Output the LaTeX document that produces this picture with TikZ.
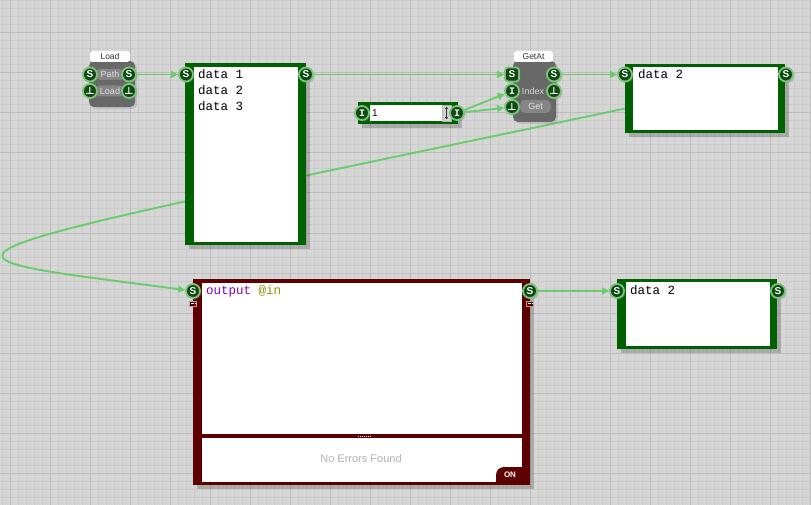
\documentclass[tikz,border=0pt]{standalone}
\usepackage{fontspec}
\setmainfont{Liberation Sans}
\setsansfont{Liberation Sans}
\setmonofont{Liberation Mono}
\newfontfamily\glyphfont{DejaVu Sans}
\usetikzlibrary{arrows.meta, positioning, shadows, calc}
\definecolor{canvas}{HTML}{D6D6D6}
\definecolor{minorline}{HTML}{CBCBCB}
\definecolor{majorline}{HTML}{BCBCBC}
\definecolor{framegreen}{HTML}{006100}
\definecolor{maroon}{HTML}{5C0000}
\definecolor{wiregreen}{HTML}{6CCB6C}
\definecolor{portfill}{HTML}{0E4A12}
\definecolor{portring}{HTML}{7CC47C}
\definecolor{blockgray}{HTML}{686868}
\definecolor{pillgray}{HTML}{858585}
\definecolor{keyword}{HTML}{8000C0}
\definecolor{varname}{HTML}{9C8A00}
\definecolor{muted}{HTML}{B2B2B2}
\pgfdeclarelayer{gridlayer}
\pgfdeclarelayer{wires}
\pgfsetlayers{gridlayer,wires,main}
\newcommand{\flagmark}{{\glyphfont\bfseries ⊥}}
\tikzset{
  port/.style={
    circle, fill=portfill, draw=portring, line width=1.8pt,
    minimum size=14pt, inner sep=0pt, text=white,
    font=\sffamily\bfseries\fontsize{10}{10}\selectfont,
    drop shadow={shadow xshift=1.5pt, shadow yshift=-1.5pt, opacity=0.3}
  },
  listport/.style={port, rectangle, rounded corners=3pt},
  greenframe/.style={
    rectangle, fill=framegreen, draw=none, inner sep=0pt,
    drop shadow={shadow xshift=4pt, shadow yshift=-4pt, fill=black, opacity=0.2}
  },
  redframe/.style={greenframe, fill=maroon},
  textarea/.style={rectangle, fill=white, inner sep=0pt},
  listtext/.style={font=\ttfamily\fontsize{12.5}{16}\selectfont, align=left, anchor=north west, inner sep=0pt},
  block/.style={
    rectangle, rounded corners=5pt, fill=blockgray, inner sep=0pt,
    drop shadow={shadow xshift=2pt, shadow yshift=-2pt, opacity=0.25}
  },
  titletab/.style={rectangle, rounded corners=3pt, fill=white, inner sep=0pt,
    font=\sffamily\fontsize{8.5}{8.5}\selectfont, text=black!80},
  pill/.style={rectangle, rounded corners=5pt, fill=pillgray, inner sep=0pt,
    font=\sffamily\fontsize{9}{9}\selectfont, text=white!88!black},
  rowtext/.style={font=\sffamily\fontsize{9}{9}\selectfont, text=white!85!black, inner sep=0pt},
  tinyicon/.style={rectangle, fill=maroon, draw=white!60!maroon, line width=0.4pt,
    minimum width=7pt, minimum height=5pt, inner sep=0pt,
    path picture={\draw[white, line width=0.7pt, dash pattern=on 0.7pt off 0.7pt]
      ([xshift=-2.5pt]path picture bounding box.center) -- ([xshift=2.5pt]path picture bounding box.center);}},
  wire/.style={draw=wiregreen, line width=1.9pt, -{Triangle[length=7pt,width=7pt]}},
}

\begin{document}
\begin{tikzpicture}[x=1pt, y=-1pt]
  \useasboundingbox (0,0) rectangle (811,505);
  \begin{pgfonlayer}{gridlayer}
    \fill[canvas] (0,0) rectangle (811,505);
    \foreach \gx in {2,10,...,810} \draw[minorline, line width=1pt] (\gx,0) -- (\gx,505);
    \foreach \gy in {1,9,...,505} \draw[minorline, line width=1pt] (0,\gy) -- (811,\gy);
    \foreach \gx in {10,50,...,810} \draw[majorline, line width=1pt] (\gx,0) -- (\gx,505);
    \foreach \gy in {33,73,...,505} \draw[majorline, line width=1pt] (0,\gy) -- (811,\gy);
  \end{pgfonlayer}

  % Load block
  \node[block, minimum width=46pt, minimum height=46pt] (load) at (112,84) {};
  \node[titletab, minimum width=40pt, minimum height=11pt] (loadtitle) at (110,56.5) {Load};
  \node[pill, minimum width=30pt, minimum height=11pt] (loadpath) at (110,74.5) {Path};
  \node[pill, minimum width=30pt, minimum height=11pt] (loadflag) at (110,91) {Load};
  \node[port] (load-path-in) at (90,74.5) {S};
  \node[port] (load-path-out) at (129,74.5) {S};
  \node[port] (load-flag-in) at (90,91) {\flagmark};
  \node[port] (load-flag-out) at (129,91) {\flagmark};

  % list of items
  \node[greenframe, minimum width=121pt, minimum height=182pt] (list) at (245.5,154) {};
  \node[textarea, minimum width=104pt, minimum height=174pt] (listarea) at (246,154.5) {};
  \node[listtext] (listitems) at (198,69.5) {data 1\\data 2\\data 3};
  \node[port] (list-in) at (186,74.5) {S};
  \node[port] (list-out) at (306,74.5) {S};

  % GetAt block
  \node[block, minimum width=43pt, minimum height=61pt] (getat) at (534.5,91.5) {};
  \node[titletab, minimum width=39pt, minimum height=11pt] (getattitle) at (533.5,56.5) {GetAt};
  \node[rowtext] (getatindex) at (533,91) {Index};
  \node[pill, minimum width=31pt, minimum height=13pt] (getatget) at (535.5,106.5) {Get};
  \node[listport] (getat-list) at (512,74.5) {S};
  \node[port] (getat-out) at (554,74.5) {S};
  \node[port] (getat-index) at (512,91) {\ttfamily I};
  \node[port] (getat-flag) at (554,91) {\flagmark};
  \node[port] (getat-get) at (512,107) {\flagmark};

  % number input
  \node[greenframe, minimum width=100pt, minimum height=22pt] (number) at (408,113) {};
  \node[textarea, minimum width=72pt, minimum height=16pt] (numberfield) at (406,113) {};
  \node[font=\sffamily\fontsize{10}{10}\selectfont, anchor=west, inner sep=0pt] (numbervalue) at (372,113) {1};
  \node[rectangle, fill=gray!35, draw=gray!60, line width=0.4pt, minimum width=9pt, minimum height=16pt, inner sep=0pt] (spinner) at (446.5,113) {};
  \draw[{Triangle[length=2pt,width=3pt]}-{Triangle[length=2pt,width=3pt]}, gray!40!black, line width=0.5pt]
    ([yshift=-2pt]spinner.north) -- ([yshift=2pt]spinner.south);
  \node[port] (num-in) at (362,113) {\ttfamily I};
  \node[port] (num-out) at (457,113) {\ttfamily I};

  % picked item
  \node[greenframe, minimum width=160pt, minimum height=69pt] (picked) at (705,98.5) {};
  \node[textarea, minimum width=145pt, minimum height=63pt] (pickedarea) at (705.5,98.5) {};
  \node[listtext] (pickeditem) at (638,69.5) {data 2};
  \node[port] (picked-in) at (625,74.5) {S};
  \node[port] (picked-out) at (786,74.5) {S};

  % script block
  \node[redframe, minimum width=337pt, minimum height=206pt] (script) at (361.5,382) {};
  \node[textarea, minimum width=320pt, minimum height=151pt] (scriptarea) at (362,358.5) {};
  \node[textarea, minimum width=320pt, minimum height=44pt] (scriptlog) at (362,460) {};
  \node[listtext] (scriptcode) at (206,285.5) {\textcolor{keyword}{output} \textcolor{varname}{@in}};
  \node[font=\sffamily\fontsize{11}{11}\selectfont, text=muted] (scriptstatus) at (361,459) {No Errors Found};
  \draw[white, line width=1pt, dash pattern=on 1pt off 1pt] (358,436.3) -- (372,436.3);
  \fill[maroon] (522,482.5) -- (496,482.5) [rounded corners=8pt] -- (496,467) [sharp corners] -- (522,467) -- cycle;
  \node[font=\sffamily\bfseries\fontsize{8}{8}\selectfont, text=white] (scripton) at (510,475) {ON};
  \node[port] (script-in) at (193,291) {S};
  \node[port] (script-out) at (530,291) {S};
  \node[tinyicon] (script-in-opt) at (193,303.5) {};
  \node[tinyicon] (script-out-opt) at (530,303.5) {};

  % script result
  \node[greenframe, minimum width=160pt, minimum height=70pt] (result) at (697,314) {};
  \node[textarea, minimum width=144pt, minimum height=64pt] (resultarea) at (698,314) {};
  \node[listtext] (resultitem) at (630,285.5) {data 2};
  \node[port] (result-in) at (617,291) {S};
  \node[port] (result-out) at (778,291) {S};

  \begin{pgfonlayer}{wires}
    \draw[wire] (load-path-out) -- (list-in);
    \draw[wire] (list-out) -- (getat-list);
    \draw[wire] (num-out) -- (getat-index);
    \draw[wire] (num-out) -- (getat-get);
    \draw[wire] (getat-out) -- (picked-in);
    \draw[wire] (picked-out) .. controls (-115,266) and (-118,250) .. (script-in);
    \draw[wire] (script-out) -- (result-in);
  \end{pgfonlayer}
\end{tikzpicture}
\end{document}
